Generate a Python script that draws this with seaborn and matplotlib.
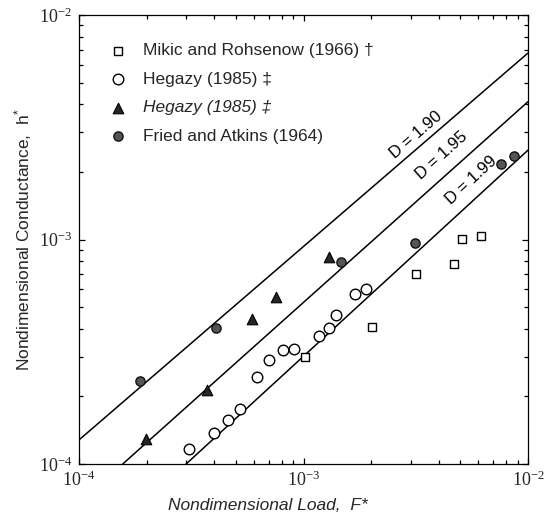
import numpy as np
import pandas as pd
import matplotlib
matplotlib.use("Agg")
import matplotlib.pyplot as plt
import seaborn as sns
from matplotlib.ticker import LogLocator, NullFormatter

# ---- data -----------------------------------------------------------------
mikic_F = [1.02e-3, 2.02e-3, 3.18e-3, 4.67e-3, 5.08e-3, 6.19e-3]
mikic_h = [2.99e-4, 4.06e-4, 7.04e-4, 7.75e-4, 1.01e-3, 1.04e-3]

hegazy_open_F = [3.09e-4, 3.99e-4, 4.61e-4, 5.23e-4, 6.21e-4, 7.02e-4, 8.13e-4,
                 9.04e-4, 1.17e-3, 1.30e-3, 1.39e-3, 1.70e-3, 1.89e-3]
hegazy_open_h = [1.17e-4, 1.38e-4, 1.57e-4, 1.75e-4, 2.45e-4, 2.92e-4, 3.22e-4,
                 3.25e-4, 3.72e-4, 4.05e-4, 4.59e-4, 5.72e-4, 6.00e-4]

hegazy_tri_F = [1.99e-4, 3.71e-4, 5.88e-4, 7.52e-4, 1.30e-3]
hegazy_tri_h = [1.29e-4, 2.14e-4, 4.43e-4, 5.53e-4, 8.38e-4]

fried_F = [1.87e-4, 4.09e-4, 1.47e-3, 3.14e-3, 7.56e-3, 8.69e-3]
fried_h = [2.34e-4, 4.05e-4, 7.91e-4, 9.62e-4, 2.17e-3, 2.35e-3]

# fractal-model lines (end points in log-log space)
line_D = ["D = 1.90", "D = 1.95", "D = 1.99"]
line_F = [[1.0e-4, 1.0e-2], [1.566e-4, 1.0e-2], [3.0e-4, 1.0e-2]]
line_h = [[1.28e-4, 6.77e-3], [1.0e-4, 4.11e-3], [1.0e-4, 2.50e-3]]
label_F = [3.42e-3, 4.64e-3, 6.24e-3]      # where each D label sits along its line
label_off = [7.9, 12.2, 11.5]               # perpendicular offset of label, points

legend_labels = ["Mikic and Rohsenow (1966) \u2020", "Hegazy (1985) \u2021",
                 "Hegazy (1985) \u2021", "Fried and Atkins (1964)"]

# ---- style ----------------------------------------------------------------
sns.set_theme(style="ticks")
plt.rcParams["font.family"] = ["Liberation Sans", "DejaVu Sans"]
plt.rcParams["mathtext.default"] = "regular"

fig = plt.figure(figsize=(5.5, 5.17), dpi=100)
ax = fig.add_axes([79 / 550, 1 - 464 / 517, 449 / 550, 449 / 517])

# ---- lines ----------------------------------------------------------------
for D, F, h in zip(line_D, line_F, line_h):
    sns.lineplot(x=F, y=h, ax=ax, color="black", lw=1.1, legend=False)

# ---- scatter series -------------------------------------------------------
sns.scatterplot(x=mikic_F, y=mikic_h, ax=ax, marker="s", s=40,
                facecolor="white", edgecolor="black", linewidth=1.0,
                label=legend_labels[0], zorder=3)
sns.scatterplot(x=hegazy_open_F, y=hegazy_open_h, ax=ax, marker="o", s=58,
                facecolor="white", edgecolor="black", linewidth=1.0,
                label=legend_labels[1], zorder=3)
sns.scatterplot(x=hegazy_tri_F, y=hegazy_tri_h, ax=ax, marker="^", s=58,
                facecolor="#262626", edgecolor="black", linewidth=0.8,
                label=legend_labels[2], zorder=3)
sns.scatterplot(x=fried_F, y=fried_h, ax=ax, marker="o", s=44,
                facecolor="#555555", edgecolor="#111111", linewidth=1.0,
                label=legend_labels[3], zorder=3)

ax.set_xscale("log")
ax.set_yscale("log")
ax.set_xlim(1e-4, 1e-2)
ax.set_ylim(1e-4, 1e-2)

# ---- D labels along lines -------------------------------------------------
fig.canvas.draw()
for D, F, h, fl, off in zip(line_D, line_F, line_h, label_F, label_off):
    lf, lh = np.log10(F), np.log10(h)
    slope = (lh[1] - lh[0]) / (lf[1] - lf[0])
    hl = 10 ** (lh[0] + slope * (np.log10(fl) - lf[0]))
    p0 = ax.transData.transform((F[0], h[0]))
    p1 = ax.transData.transform((F[1], h[1]))
    ang = np.degrees(np.arctan2(p1[1] - p0[1], p1[0] - p0[0]))
    dx = -np.sin(np.radians(ang)) * off
    dy = np.cos(np.radians(ang)) * off
    ax.annotate(D, xy=(fl, hl), xytext=(dx, dy), textcoords="offset points",
                rotation=ang, rotation_mode="anchor", ha="center", va="center",
                fontsize=12, color="black")

# ---- axes, ticks ----------------------------------------------------------
ax.xaxis.set_major_locator(LogLocator(base=10, numticks=5))
ax.yaxis.set_major_locator(LogLocator(base=10, numticks=5))
ax.xaxis.set_minor_locator(LogLocator(base=10, subs=np.arange(2, 10), numticks=20))
ax.yaxis.set_minor_locator(LogLocator(base=10, subs=np.arange(2, 10), numticks=20))
ax.xaxis.set_minor_formatter(NullFormatter())
ax.yaxis.set_minor_formatter(NullFormatter())
ax.tick_params(which="both", direction="in", top=True, right=True,
               color="black", width=0.9)
ax.tick_params(which="major", length=4.5, labelsize=13, pad=5,
               labelfontfamily="Liberation Serif")
ax.tick_params(which="minor", length=2.8)
for sp in ax.spines.values():
    sp.set_color("black")
    sp.set_linewidth(0.9)

ax.set_xlabel("")
ax.set_ylabel("")
fig.text(268 / 550, 1 - 505 / 517, "Nondimensional Load,  F*", fontsize=12.5,
         style="italic", ha="center", va="center")
fig.text(23 / 550, 1 - 240 / 517, "Nondimensional Conductance,  h$^{*}$",
         fontsize=12.5, rotation=90, ha="center", va="center")

# ---- legend ---------------------------------------------------------------
leg = ax.legend(frameon=False, loc="upper left", bbox_to_anchor=(0.068, 0.937),
                borderpad=0, borderaxespad=0, handlelength=1.0,
                handletextpad=0.9, labelspacing=0.77, fontsize=12.5,
                markerscale=1.0)
leg.get_texts()[2].set_style("italic")

fig.savefig("out.png", dpi=100)
